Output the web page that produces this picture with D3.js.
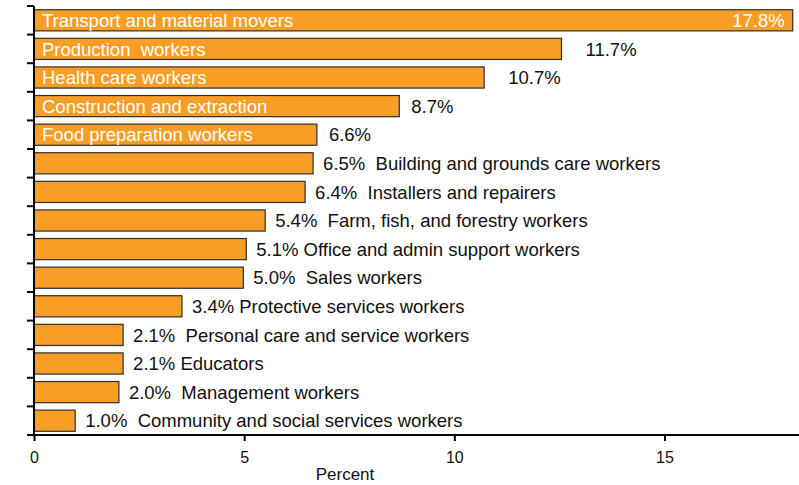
<!DOCTYPE html>
<html>
<head>
<meta charset="utf-8">
<script src="https://cdn.jsdelivr.net/npm/d3@7"></script>
<style>
  body { margin: 0; background: #fff; }
  svg { display: block; font-family: Arial, "Liberation Sans", sans-serif; }
  text { white-space: pre; }
</style>
</head>
<body>
<script>
const categories = [
  "Transport and material movers",
  "Production  workers",
  "Health care workers",
  "Construction and extraction",
  "Food preparation workers",
  "Building and grounds care workers",
  "Installers and repairers",
  "Farm, fish, and forestry workers",
  "Office and admin support workers",
  "Sales workers",
  "Protective services workers",
  "Personal care and service workers",
  "Educators",
  "Management workers",
  "Community and social services workers"
];
// bar lengths as drawn in the picture
const values = [18.05, 12.55, 10.71, 8.69, 6.73, 6.64, 6.45, 5.5, 5.05, 4.98, 3.52, 2.12, 2.12, 2.02, 0.98];
// printed labels
const valueLabels = ["17.8%", "11.7%", "10.7%", "8.7%", "6.6%", "6.5%  ", "6.4%  ", "5.4%  ", "5.1% ",
  "5.0%  ", "3.4% ", "2.1%  ", "2.1% ", "2.0%  ", "1.0%  "];
const xTicks = [0, 5, 10, 15];
const xDomain = [0, 18.2];
const namesInside = 5;

const width = 799;
const height = 485;
const plotLeft = 34;
const plotTop = 6;
const plotBottom = 435;
const labelSize = "18.5px";

const svg = d3.select("body").append("svg")
  .attr("width", width)
  .attr("height", height);

const x = d3.scaleLinear().domain(xDomain).range([plotLeft, width]);
const y = d3.scaleBand().domain(categories).range([plotTop, plotBottom])
  .paddingInner(0.26).paddingOuter(0.13);

// bars
svg.append("g").selectAll("rect")
  .data(categories)
  .join("rect")
  .attr("x", x(0))
  .attr("y", d => y(d))
  .attr("width", (d, i) => x(values[i]) - x(0))
  .attr("height", y.bandwidth())
  .attr("fill", "#F89D26")
  .attr("stroke", "#2e2e2e")
  .attr("stroke-width", 1.2);

// labels
categories.forEach((name, i) => {
  const cy = y(name) + y.bandwidth() / 2;
  const end = x(values[i]);
  if (i < namesInside) {
    svg.append("text")
      .attr("x", x(0) + 8)
      .attr("y", cy)
      .attr("dy", "0.36em")
      .attr("font-size", labelSize)
      .attr("fill", "#fff")
      .text(name);
    if (i === 0) {
      svg.append("text")
        .attr("x", end - 8)
        .attr("y", cy)
        .attr("dy", "0.36em")
        .attr("text-anchor", "end")
        .attr("font-size", labelSize)
        .attr("fill", "#fff")
        .text(valueLabels[i]);
    } else {
      svg.append("text")
        .attr("x", end + (i < 3 ? 24 : 12))
        .attr("y", cy)
        .attr("dy", "0.36em")
        .attr("font-size", labelSize)
        .attr("fill", "#111")
        .text(valueLabels[i]);
    }
  } else {
    svg.append("text")
      .attr("x", end + 10)
      .attr("y", cy)
      .attr("dy", "0.36em")
      .attr("font-size", labelSize)
      .attr("fill", "#111")
      .text(valueLabels[i] + name);
  }
});

// y axis with ticks at category boundaries
const step = y.step();
const edge = y.paddingInner() * step / 2;
const bounds = categories.map(d => y(d) - edge).concat([plotBottom]);
svg.append("line")
  .attr("x1", plotLeft).attr("x2", plotLeft)
  .attr("y1", plotTop).attr("y2", plotBottom)
  .attr("stroke", "#000").attr("stroke-width", 2);
svg.append("g").selectAll("line")
  .data(bounds)
  .join("line")
  .attr("x1", plotLeft - 7).attr("x2", plotLeft)
  .attr("y1", d => d).attr("y2", d => d)
  .attr("stroke", "#000").attr("stroke-width", 2);

// x axis
const xAxis = svg.append("g")
  .attr("transform", `translate(0,${plotBottom})`)
  .call(d3.axisBottom(x).tickValues(xTicks).tickSize(6).tickSizeOuter(0).tickFormat(d3.format("d")));
xAxis.select(".domain").remove();
xAxis.selectAll(".tick line").attr("stroke", "#000").attr("stroke-width", 2);
xAxis.selectAll(".tick text")
  .attr("y", 17)
  .attr("dy", "0.71em")
  .attr("font-size", "16px")
  .attr("font-family", "Arial, 'Liberation Sans', sans-serif")
  .attr("fill", "#111");
svg.append("line")
  .attr("x1", plotLeft - 7).attr("x2", width)
  .attr("y1", plotBottom).attr("y2", plotBottom)
  .attr("stroke", "#000").attr("stroke-width", 2);

svg.append("text")
  .attr("x", 345)
  .attr("y", 480)
  .attr("text-anchor", "middle")
  .attr("font-size", "17px")
  .attr("fill", "#111")
  .text("Percent");
</script>
</body>
</html>
